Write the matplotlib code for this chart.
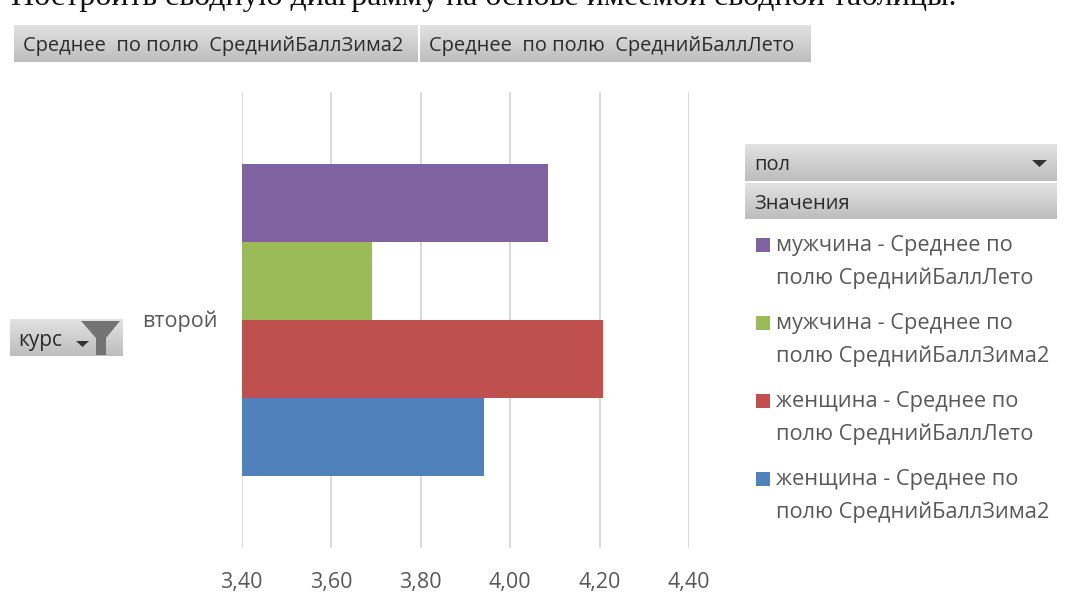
import numpy as np
import matplotlib
matplotlib.use("Agg")
import matplotlib.pyplot as plt
from matplotlib.patches import Rectangle, Polygon

plt.rcParams['font.family'] = ['Open Sans', 'DejaVu Sans']

W, H = 1072, 604
TEXT_GREY = '#595959'
DARK = '#2b2b2b'

# Bars listed bottom to top, as the pivot chart stacks its series
series_names = [
    'женщина - Среднее по\nполю СреднийБаллЗима2',
    'женщина - Среднее по\nполю СреднийБаллЛето',
    'мужчина - Среднее по\nполю СреднийБаллЗима2',
    'мужчина - Среднее по\nполю СреднийБаллЛето',
]
series_values = [3.942, 4.208, 3.692, 4.085]
series_colors = ['#4F81BD', '#C0504D', '#9BBB59', '#8064A2']
category_label = 'второй'
x_ticks = [3.40, 3.60, 3.80, 4.00, 4.20, 4.40]

fig = plt.figure(figsize=(W / 100, H / 100), dpi=100, facecolor='white')

# Bar plot
left, right, top, bottom = 241.5, 689.0, 92.0, 548.0
ax = fig.add_axes([left / W, 1 - bottom / H, (right - left) / W, (bottom - top) / H])
ax.set_xlim(3.40, 4.40)
ax.set_ylim(0, 456)
ax.set_xticks(x_ticks)
ax.set_xticklabels([f'{t:.2f}'.replace('.', ',') for t in x_ticks],
                   fontsize=15.5, color=TEXT_GREY)
ax.tick_params(axis='x', length=0, pad=17)
ax.set_yticks([])
ax.grid(axis='x', color='#d9d9d9', linewidth=1.4)
ax.set_axisbelow(True)
for s in ax.spines.values():
    s.set_visible(False)

bar_h = 78
base = 228 - 2 * bar_h
for i, (v, c) in enumerate(zip(series_values, series_colors)):
    ax.barh(base + (i + 0.5) * bar_h, v - 3.40, left=3.40, height=bar_h, color=c, linewidth=0)

# Overlay in pixel coordinates for pivot controls and legend
ov = fig.add_axes([0, 0, 1, 1], facecolor='none')
ov.set_xlim(0, W)
ov.set_ylim(H, 0)
ov.axis('off')


def button(x0, y0, x1, y1, label, fs=14.4, tx=None, dy=3):
    grad = np.linspace(0.885, 0.74, 64).reshape(-1, 1)
    ov.imshow(grad, extent=(x0, x1, y1, y0), cmap='gray', vmin=0, vmax=1,
              aspect='auto', zorder=2, interpolation='bilinear')
    ov.text(x0 + 9 if tx is None else tx, (y0 + y1) / 2 + dy, label, fontsize=fs,
            color=DARK, va='center', ha='left', zorder=3)


button(14, 25, 418, 62, 'Среднее  по полю  СреднийБаллЗима2')
button(420, 25, 811, 62, 'Среднее  по полю  СреднийБаллЛето')
button(745, 144, 1057, 181, 'пол')
button(745, 183, 1057, 219, 'Значения')
button(10, 319, 123, 356, 'курс', fs=15, tx=18)

# Dropdown arrows and the filter glyph
ov.add_patch(Polygon([[1032, 160], [1047, 160], [1039.5, 167]],
                     facecolor='#333333', linewidth=0, zorder=4))
ov.add_patch(Polygon([[76, 341], [89, 341], [82.5, 347]],
                     facecolor='#333333', linewidth=0, zorder=4))
ov.add_patch(Polygon([[81, 321], [120, 321], [106, 338], [106, 355], [96, 355], [96, 338]],
                     facecolor='#737373', linewidth=0, zorder=4))

ov.set_xlim(0, W)
ov.set_ylim(H, 0)

ov.text(180, 321.5, category_label, fontsize=15.5, color=TEXT_GREY, ha='center', va='center')

# Legend, newest series first
legend_rows = [(244, 3), (322, 2), (400, 1), (478, 0)]
for y, idx in legend_rows:
    ov.add_patch(Rectangle((756, y - 6), 14, 14, facecolor=series_colors[idx], linewidth=0))
    l1, l2 = series_names[idx].split('\n')
    ov.text(776, y + 2, l1, fontsize=15.7, color=TEXT_GREY, va='center', ha='left')
    ov.text(776, y + 34, l2, fontsize=15.7, color=TEXT_GREY, va='center', ha='left')

# Sentence above the chart, clipped by the top edge of the page
ov.text(11, 5, 'Построить сводную диаграмму на основе имеемой сводной таблицы.',
        family='Liberation Serif', fontsize=23, color='#111111', va='baseline', ha='left')

fig.savefig('out.png', dpi=100)
